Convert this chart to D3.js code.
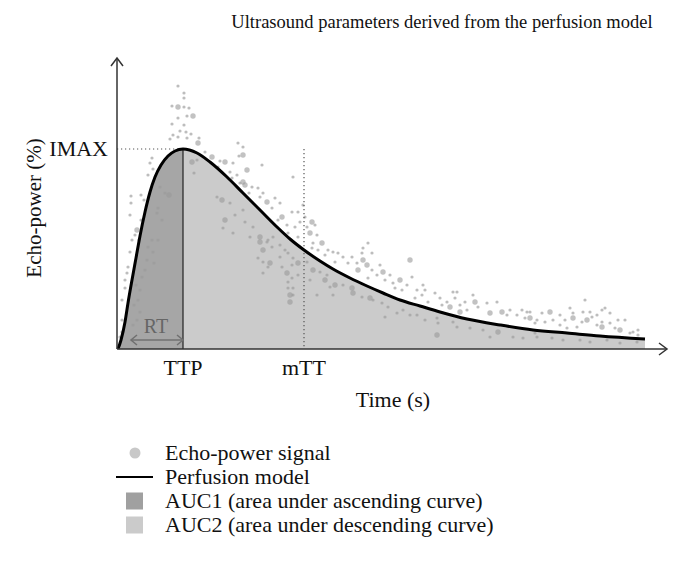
<!DOCTYPE html>
<html>
<head>
<meta charset="utf-8">
<script src="https://cdn.jsdelivr.net/npm/d3@7"></script>
<style>
body{margin:0;background:#fff;}
text{font-family:"Liberation Serif","Times New Roman",serif;fill:#111;}
</style>
</head>
<body>
<script>
(function(){

    //perfusion model curve (time in s, echo-power in % of IMAX)
    var modelTime = [0.2,0.8,1.6,2.2,3,3.8,4.6,5.6,6.6,7.6,8.8,10.2,11.6,13.2,16,18.6,22,25.2,28.6,32,34.6,37.4,40.6,43.2,46.6,50,53.2,56.6,60.6,64.6,70,76.6,83.2,90,96.6,105.6];
    var modelEcho = [0,4.5,13.5,23,34.5,45.5,56.5,68.5,78.5,86,92,96.5,99,100,98,93.5,86,78,69.5,61,55,49.5,44,40,35.5,31.5,28,24.5,21.5,18.5,15,12,9.5,8,6.5,5];

    //derived parameters
    var ttp = 13.2, mtt = 37.4, imax = 100, rtStart = 2.8;

    //echo-power signal samples [time, echo]
    var echoSmall = [
        [12.2,131.5],[13.4,128],[13.4,125.5],[11,121.5],[13.4,121],[14.4,120.5],[14,116.5],[12.2,115.5],[11,112.5],[13.4,112],
        [12.6,109],[13.8,108.5],[11.2,107],[14.8,107.5],[12.2,106],[10.6,105],[16.4,105.5],[14,105.5],[17.6,98.5],[7,95.5],
        [6.6,93],[7.2,90],[6.2,87],[15.4,88],[16,94.5],
        [2.8,76.5],[4.8,77],[2.8,73],[2.6,67],[3.6,57],[3,54.5],[2.6,48.5],[2.2,41],[2,38],[1.6,34.5],
        [1.6,30.5],[1,24.5],[1,14.5],[1,8.5],[0.6,6],
        [8.6,81],[9.6,78],[8.2,70.5],[8,68],[9,64.5],[7,54.5],[8.2,54.5],[6.2,51],[7.2,48.5],[6,44.5],
        [7.4,43],[5.6,39.5],[5,36],[4.6,29.5],[4.2,24.5],[4.6,18.5],[4,14.5],
        [5.4,74.5],[4.8,64.5],[4.4,54.5],[3.8,32],[3.4,22],[3.2,12],[3,4.5],
        [24.2,103],[25.2,101],[24.4,96.5],[20.6,94],[23.2,93],[29,92],[20.2,91],[22.6,88.5],[24,87],[23,85.5],
        [24.6,83],[27,81],[28.2,80.5],[29.2,78],[26.4,78],[28.6,76],[31.6,75.5],[35.2,86],[32.6,73],[31,70.5],
        [32.2,64.5],[35,68.5],[36.2,68.5],[34,62],[36.6,63.5],[34.2,58],[35.6,61],[36.2,56],
        [20,76],[22.6,73],[23.6,67],[21.2,60.5],[25.6,63.5],[27.2,61],[30.2,54.5],[31.2,56],[26.6,56],[25.2,69.5],[23.2,58],
        [30,53.5],[31,51],[32.6,52],[33.6,49.5],[34.2,48],[32.6,46],[28.2,45.5],[29.2,43.5],[35.2,45.5],[35,42],
        [33,41],[30.2,41],[36.2,37],[29.2,38],[35,35.5],[34.2,33.5],[35.2,30.5],[34.2,30.5],[35.2,27],
        [37.2,72],[37.6,66],[39.6,62],[38,61],[40,57],[39.2,53],[39,50.5],[40.2,49.5],[42.2,49.5],[43.2,48.5],
        [41.6,47],[45.2,46],[44.2,48],[47,46],[50.2,53],[49.2,50.5],[49,48],[51,48],[48,43],[43.6,43.5],
        [46.2,43],[52.6,42],[51,39.5],[52,37],[54.6,37],[50.2,35.5],[53.6,34.5],[55.2,33],[59,36],[58,32],
        [57,29.5],[55.6,30.5],
        [38,43.5],[40.6,38.5],[42,37],[38.6,34.5],[42.6,31],[45.2,32],[40,27],[43.2,27],[49,26],[51.2,24.5],
        [53,23],[54.2,21],[53.6,16],[56,18],[57.2,19.5],[58.6,17],
        [61.2,32],[60,29.5],[61.6,29.5],[61,27],[59.6,25.5],[63.6,28],[64.6,25.5],[62.2,23.5],[67.2,28.5],[67.6,25.5],
        [66,23.5],[68.6,22],[69.6,23.5],[71.2,27],[72.2,21],[70,19.5],[74,23],[76,23.5],[78.6,19.5],[78,17],
        [80,17],[81,19.5],[82,18.5],[81.6,15.5],[84,14.5],[65,22],[68,28.5],
        [60,17],[61.6,14.5],[64,15.5],[64.2,13],[67.2,13.5],[68,11],[70.6,10.5],[73.2,9.5],[74.6,6],[79.2,6],
        [81.2,5.5],[83.6,8],
        [93.6,24.5],[90.6,20.5],[97,19.5],[97.6,20.5],[85,18],[82.6,18.5],[91.2,18],[93.2,18.5],[94.6,18.5],[98.6,18],
        [88.6,17],[95,16],[96,17],[89.6,14.5],[87.2,14.5],[85.6,13.5],[93,13.5],[97,13.5],[100.2,14.5],[101.6,14.5],
        [98.6,13],[96,12],[83.6,13],[92,11],[88.6,12],[90,10.5],[99.6,10.5],[103.2,8.5],[104.2,9.5],[102.6,8],
        [104.2,7],[87,5.5],[89.2,4.5],[92.6,4.5],[94.6,3.5],[98,4.5],[100.6,3],[104,3.5],[84,6]
    ];
    var echoLarge = [
        [12.2,121],[15.2,116.5],[16.2,103],[19,96],[15,93.5],[4,59.5],[10.4,77],
        [25.2,97],[21.6,93.5],[26,89.5],[25.2,83.5],[25.6,82],[30,73.5],[33,66],[21,74.5],[21.6,64.5],[28.6,56],
        [28.6,53.5],[29.2,49.5],[30.6,43],[36.2,43],[34,38],[34.6,27],[34.6,23.5],
        [39,63.5],[38.6,58],[41,53],[49.2,44.5],[50,42],[48.2,39.5],[53.2,38.5],[56.6,34.5],[58.6,44.5],
        [39.2,39.5],[41.6,34.5],[43.6,32],[47,30.5],[47.2,28],[50.6,25.5],
        [66.6,21],[71.6,23.5],[74.6,18],[77,18.5],[82.6,15.5],[68.6,18.5],[64,7],[76.2,8.5],
        [86.6,18.5],[91.2,15.5],[94,14.5],[97,11],[100.6,9.5]
    ];

    var legendLabels = ["Echo-power signal", "Perfusion model", "AUC1 (area under ascending curve)", "AUC2 (area under descending curve)"];

    //frame
    var width = 681, height = 562;
    var svg = d3.select("body").append("svg")
        .attr("width", width)
        .attr("height", height);

    var x = d3.scaleLinear().domain([0, 110]).range([117, 667]);
    var y = d3.scaleLinear().domain([0, 145.5]).range([349, 58]);

    var model = modelTime.map(function(t, i){ return [t, modelEcho[i]]; });
    var rising = model.filter(function(d){ return d[0] <= ttp; });
    var falling = model.filter(function(d){ return d[0] >= ttp; });

    var area = d3.area()
        .x(function(d){ return x(d[0]); })
        .y0(y(0))
        .y1(function(d){ return y(d[1]); })
        .curve(d3.curveMonotoneX);
    var line = d3.line()
        .x(function(d){ return x(d[0]); })
        .y(function(d){ return y(d[1]); })
        .curve(d3.curveMonotoneX);

    //AUC areas
    svg.append("path").attr("d", area(falling)).attr("fill", "#cbcbcb");
    svg.append("path").attr("d", area(rising)).attr("fill", "#a6a6a6");

    //signal dots
    svg.append("g").selectAll("circle")
        .data(echoSmall).join("circle")
        .attr("cx", function(d){ return x(d[0]); })
        .attr("cy", function(d){ return y(d[1]); })
        .attr("r", 1.6)
        .attr("fill", "#9a9a9a")
        .attr("fill-opacity", 0.65);
    svg.append("g").selectAll("circle")
        .data(echoLarge).join("circle")
        .attr("cx", function(d){ return x(d[0]); })
        .attr("cy", function(d){ return y(d[1]); })
        .attr("r", 2.7)
        .attr("fill", "#9a9a9a")
        .attr("fill-opacity", 0.6);

    //TTP line
    svg.append("line")
        .attr("x1", x(ttp)).attr("x2", x(ttp))
        .attr("y1", y(imax)).attr("y2", y(0))
        .attr("stroke", "#222").attr("stroke-width", 1.2);

    //dotted guides
    svg.append("line")
        .attr("x1", x(0)).attr("x2", x(ttp))
        .attr("y1", y(imax)).attr("y2", y(imax))
        .attr("stroke", "#555").attr("stroke-width", 1.2)
        .attr("stroke-dasharray", "1.2,2.8");
    svg.append("line")
        .attr("x1", x(mtt)).attr("x2", x(mtt))
        .attr("y1", y(imax)).attr("y2", y(0))
        .attr("stroke", "#555").attr("stroke-width", 1.2)
        .attr("stroke-dasharray", "1.2,2.8");

    //model curve
    svg.append("path")
        .attr("d", line(model))
        .attr("fill", "none")
        .attr("stroke", "#000")
        .attr("stroke-width", 3);

    //RT arrow
    var rtY = y(4.5), rtCol = "#707070";
    var rt = svg.append("g").attr("stroke", rtCol).attr("stroke-width", 1.5).attr("fill", "none");
    rt.append("line").attr("x1", x(rtStart)).attr("x2", x(ttp)).attr("y1", rtY).attr("y2", rtY);
    rt.append("path").attr("d", "M" + (x(rtStart) + 6) + "," + (rtY - 5) + "L" + x(rtStart) + "," + rtY + "L" + (x(rtStart) + 6) + "," + (rtY + 5));
    rt.append("path").attr("d", "M" + (x(ttp) - 6) + "," + (rtY - 5) + "L" + x(ttp) + "," + rtY + "L" + (x(ttp) - 6) + "," + (rtY + 5));
    svg.append("text")
        .attr("x", (x(rtStart) + x(ttp)) / 2 - 1)
        .attr("y", y(8))
        .attr("text-anchor", "middle")
        .style("font-size", "20px")
        .style("fill", "#666")
        .text("RT");

    //axes with arrowheads
    var ax = svg.append("g").attr("stroke", "#333").attr("stroke-width", 1.5).attr("fill", "none");
    ax.append("line").attr("x1", x(0)).attr("x2", x(0)).attr("y1", y(0)).attr("y2", y.range()[1]);
    ax.append("line").attr("x1", x(0)).attr("x2", x.range()[1]).attr("y1", y(0)).attr("y2", y(0));
    ax.append("path").attr("d", "M" + (x(0) - 6) + "," + (y.range()[1] + 8) + "L" + x(0) + "," + y.range()[1] + "L" + (x(0) + 6) + "," + (y.range()[1] + 8));
    ax.append("path").attr("d", "M" + (x.range()[1] - 8) + "," + (y(0) - 6) + "L" + x.range()[1] + "," + y(0) + "L" + (x.range()[1] - 8) + "," + (y(0) + 6));

    //axis annotations
    svg.append("text").attr("x", x(0) - 9).attr("y", y(imax) + 7)
        .attr("text-anchor", "end").style("font-size", "22px").text("IMAX");
    svg.append("text").attr("x", x(ttp)).attr("y", y(0) + 26)
        .attr("text-anchor", "middle").style("font-size", "22px").text("TTP");
    svg.append("text").attr("x", x(mtt)).attr("y", y(0) + 26)
        .attr("text-anchor", "middle").style("font-size", "22px").text("mTT");
    svg.append("text").attr("x", 393).attr("y", 407)
        .attr("text-anchor", "middle").style("font-size", "22px").text("Time (s)");
    svg.append("text")
        .attr("transform", "translate(41,208) rotate(-90)")
        .attr("text-anchor", "middle").style("font-size", "21px").text("Echo-power (%)");

    //title
    svg.append("text").attr("x", 442).attr("y", 28)
        .attr("text-anchor", "middle").style("font-size", "18.5px")
        .text("Ultrasound parameters derived from the perfusion model");

    //legend
    var legY = [453, 477, 501, 525];
    var leg = svg.append("g");
    leg.append("circle").attr("cx", 135).attr("cy", legY[0]).attr("r", 5.5).attr("fill", "#c8c8c8");
    leg.append("line").attr("x1", 116).attr("x2", 153).attr("y1", legY[1]).attr("y2", legY[1])
        .attr("stroke", "#000").attr("stroke-width", 2);
    leg.append("rect").attr("x", 126).attr("y", legY[2] - 8.5).attr("width", 17).attr("height", 17).attr("fill", "#a0a0a0");
    leg.append("rect").attr("x", 126).attr("y", legY[3] - 8.5).attr("width", 17).attr("height", 17).attr("fill", "#cbcbcb");
    leg.selectAll("text")
        .data(legendLabels).join("text")
        .attr("x", 165)
        .attr("y", function(d, i){ return legY[i] + 7; })
        .style("font-size", "22px")
        .text(function(d){ return d; });

})();
</script>
</body>
</html>
